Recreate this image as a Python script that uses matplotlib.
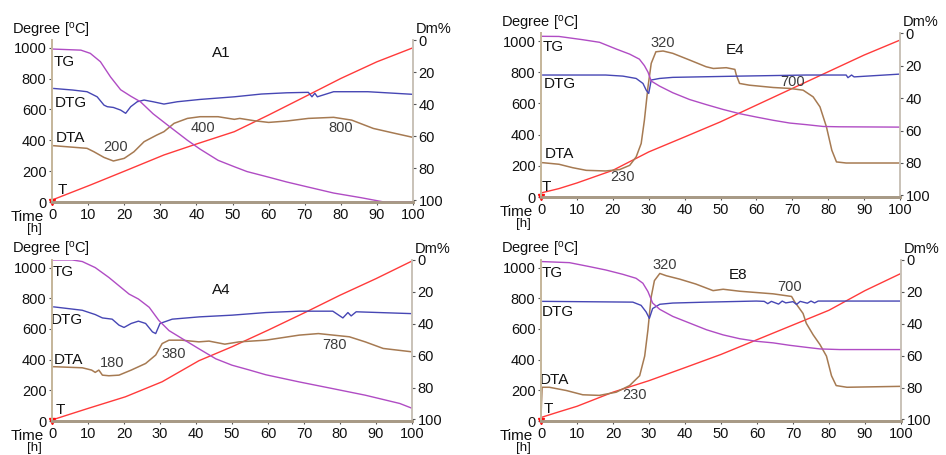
import matplotlib
matplotlib.use("Agg")
import matplotlib.pyplot as plt


TG_COLOR = "#b04cc4"
DTG_COLOR = "#4646b4"
DTA_COLOR = "#a67a52"
T_COLOR = "#ff3a3a"
NOTE_COLOR = "#3c3c3c"

# ---- A1 ----
A1_T_X = [0, 10.6, 20.8, 31, 40, 50.5, 60, 70, 80, 90, 100]
A1_T_Y = [13, 110, 207, 305, 376, 456, 564, 682, 801, 909, 1000]
A1_TG_X = [0, 8, 10.6, 13.4, 16.2, 19, 21.8, 24.5, 28, 32, 37.5, 41, 46, 50.5, 54, 60, 65, 71, 78, 85.6, 92, 100]
A1_TG_Y = [5.6, 6.3, 8.3, 13.5, 23, 31, 35, 38.5, 46, 53, 62.5, 68, 75, 79, 82, 85.5, 88.5, 91.7, 95.4, 98.3, 101, 101]
A1_DTG_X = [0.5, 5.7, 9.7, 12.5, 14.4, 15.3, 17, 19, 20.4, 21.8, 23.6, 25.5, 28, 31, 34.7, 41, 50.5, 58, 65, 71, 72, 72.8, 73.5, 78, 87.5, 100]
A1_DTG_Y = [736, 726, 715, 682, 628, 618, 613, 596, 575, 618, 650, 661, 650, 635, 650, 665, 682, 700, 708, 711, 682, 705, 682, 715, 715, 698]
A1_DTA_X = [0.5, 9.7, 11.6, 14.4, 17, 20, 22.7, 25.5, 29, 31, 33.8, 37.5, 41, 46, 50.5, 52, 56, 60, 65, 71, 78, 83, 89, 95, 100]
A1_DTA_Y = [365, 348, 326, 289, 266, 283, 326, 391, 434, 456, 510, 542, 553, 553, 536, 542, 527, 516, 525, 542, 549, 531, 477, 445, 419]

# ---- E4 ----
E4_T_X = [0, 5, 10, 20, 30, 40, 50, 60, 70, 80, 90, 100]
E4_T_Y = [26, 54, 90, 171, 289, 385, 482, 589, 696, 803, 910, 1006]
E4_TG_X = [0, 5, 11.6, 16.3, 21, 24.7, 27.4, 28.8, 29.8, 30.7, 33, 36.7, 41.4, 46, 50.7, 55.3, 60, 64.7, 69.3, 74, 78.6, 83, 100]
E4_TG_Y = [1.9, 2, 4, 5.6, 9.8, 12.9, 16, 20, 24, 29.5, 32.6, 36.7, 40.9, 44, 47, 49.6, 51.7, 53.7, 55.4, 56.4, 57.5, 57.7, 57.9]
E4_DTG_X = [0.5, 18, 22.8, 26.5, 28.4, 29.3, 30, 30.7, 33, 36.7, 46, 55.3, 74, 85, 85.5, 86.5, 87.2, 100]
E4_DTG_Y = [782, 782, 775, 760, 728, 685, 664, 750, 760, 767, 771, 775, 782, 782, 765, 782, 770, 788]
E4_DTA_X = [0.5, 5, 8.8, 12.6, 18, 21.9, 24.7, 26.5, 27.9, 28.8, 29.8, 30.7, 32, 34, 36.7, 41.4, 46, 48, 51.6, 54, 54.4, 55.3, 58, 64.7, 69.3, 73, 75.8, 77.7, 79.5, 81, 82.3, 85, 100]
E4_DTA_Y = [220, 210, 188, 171, 167, 176, 203, 257, 343, 493, 707, 857, 931, 936, 921, 878, 835, 824, 829, 818, 782, 728, 717, 702, 696, 685, 642, 578, 450, 300, 225, 218, 218]

# ---- A4 ----
A4_T_X = [0, 10, 20.4, 30.6, 40.8, 50, 60, 70.6, 80, 90, 100]
A4_T_Y = [7, 82, 158, 256, 393, 484, 592, 711, 820, 928, 1043]
A4_TG_X = [0, 5.6, 8.4, 12, 15.8, 18.6, 21.4, 24, 27, 29.7, 32.5, 37, 40.8, 45.5, 50, 54.8, 59.4, 68.7, 78, 87, 96.6, 100]
A4_TG_Y = [0, 0, 1, 4.8, 11, 16.2, 21.4, 24.5, 29.7, 38, 44.3, 50.5, 55.7, 62, 66, 69, 72, 76.5, 80.7, 84.8, 90, 93]
A4_DTG_X = [0.5, 8.4, 12, 14, 16.7, 18.6, 20, 22, 24, 26, 27.9, 28.8, 30, 33.4, 41, 50, 59.4, 68.7, 78, 80.8, 82.2, 83.1, 84.5, 100]
A4_DTG_Y = [744, 722, 694, 672, 664, 625, 610, 636, 651, 636, 581, 570, 636, 664, 679, 690, 707, 716, 716, 672, 707, 685, 712, 700]
A4_DTA_X = [0.5, 8.4, 11, 12, 13, 14, 15.8, 18.6, 22, 26, 28.8, 30.6, 32.5, 36, 40.8, 43.6, 48, 52, 59.4, 68.7, 74, 82.6, 87, 92, 100]
A4_DTA_Y = [354, 347, 332, 317, 332, 299, 295, 299, 332, 375, 430, 505, 527, 527, 516, 521, 501, 516, 527, 560, 570, 549, 516, 473, 451]

# ---- E8 ----
E8_T_X = [0, 5, 10, 20, 30, 40, 50, 60, 70, 80, 90, 100]
E8_T_Y = [23, 60, 96, 188, 263, 348, 434, 530, 626, 722, 850, 962]
E8_TG_X = [0, 7.9, 13.5, 18, 22.7, 26.4, 28.3, 29.7, 31, 33, 36.6, 41.3, 46, 50.6, 55.2, 59.8, 64.5, 69, 73.7, 77.5, 83, 100]
E8_TG_Y = [1, 1.7, 4.2, 6.3, 9, 11.5, 14.6, 19.8, 27, 31, 35.4, 39.6, 43.8, 47, 49.4, 51, 52, 53.5, 54.8, 55.8, 56.2, 56.2]
E8_DTG_X = [0.5, 25.5, 27.8, 29.2, 30.1, 31, 33, 36.6, 46, 59.8, 62, 63, 64, 66, 67, 68, 70, 71, 72, 74, 75, 76, 77, 100]
E8_DTG_Y = [780, 775, 754, 711, 669, 733, 761, 769, 775, 782, 780, 765, 780, 762, 782, 770, 778, 760, 780, 768, 782, 770, 782, 782]
E8_DTA_X = [0, 0.3, 2.3, 7, 11.6, 16.2, 20.9, 24.6, 27.4, 28.8, 29.7, 30.6, 31.5, 33, 34.8, 38.5, 43, 47.8, 50.6, 55.2, 64.5, 69.6, 70.5, 72.8, 73.7, 75.6, 77.5, 79.3, 80.7, 82, 85, 100]
E8_DTA_Y = [30, 220, 220, 199, 171, 167, 188, 231, 295, 423, 594, 808, 915, 962, 947, 925, 893, 850, 859, 846, 829, 812, 776, 701, 637, 562, 498, 423, 295, 231, 220, 226]


PANELS = [
    {
        "name": "A1", "rect": [0.055, 0.556, 0.3816, 0.356],
        "T": (A1_T_X, A1_T_Y), "TG": (A1_TG_X, A1_TG_Y),
        "DTG": (A1_DTG_X, A1_DTG_Y), "DTA": (A1_DTA_X, A1_DTA_Y),
        "labels": {"TG": (3.4, 909), "DTG": (5.1, 644), "DTA": (5.1, 412), "T": (2.8, 78), "A1": (47, 963)},
        "notes": [("200", 17.6, 354), ("400", 41.7, 482), ("800", 79.9, 477)],
    },
    {
        "name": "E4", "rect": [0.5719, 0.567, 0.3795, 0.360],
        "T": (E4_T_X, E4_T_Y), "TG": (E4_TG_X, E4_TG_Y),
        "DTG": (E4_DTG_X, E4_DTG_Y), "DTA": (E4_DTA_X, E4_DTA_Y),
        "labels": {"TG": (3.5, 964), "DTG": (5.1, 722), "DTA": (5.1, 274), "T": (1.4, 64), "E4": (54, 942)},
        "notes": [("320", 34, 989), ("700", 70.2, 739), ("230", 22.8, 128)],
    },
    {
        "name": "A4", "rect": [0.055, 0.0747, 0.3805, 0.354],
        "T": (A4_T_X, A4_T_Y), "TG": (A4_TG_X, A4_TG_Y),
        "DTG": (A4_DTG_X, A4_DTG_Y), "DTA": (A4_DTA_X, A4_DTA_Y),
        "labels": {"TG": (3.2, 972), "DTG": (4.2, 657), "DTA": (4.6, 397), "T": (2.3, 72), "A4": (46.9, 857)},
        "notes": [("180", 16.7, 375), ("380", 33.9, 434), ("780", 78.5, 494)],
    },
    {
        "name": "E8", "rect": [0.5719, 0.0747, 0.3805, 0.354],
        "T": (E8_T_X, E8_T_Y), "TG": (E8_TG_X, E8_TG_Y),
        "DTG": (E8_DTG_X, E8_DTG_Y), "DTA": (E8_DTA_X, E8_DTA_Y),
        "labels": {"TG": (3.2, 962), "DTG": (4.6, 712), "DTA": (3.7, 267), "T": (2.1, 81), "E8": (54.7, 953)},
        "notes": [("320", 34.3, 1015), ("700", 69.1, 872), ("230", 26, 167)],
    },
]


def draw_panel(fig, panel):
    ax = fig.add_axes(panel["rect"])
    ax2 = ax.twinx()

    ax.plot(*panel["T"], color=T_COLOR, lw=1.0)
    ax.plot(*panel["DTA"], color=DTA_COLOR, lw=1.1)
    ax.plot(*panel["DTG"], color=DTG_COLOR, lw=1.0)
    ax2.plot(*panel["TG"], color=TG_COLOR, lw=1.0)
    ax.plot([0], [0], marker="v", color="#ff1010", ms=5, clip_on=False, zorder=5)

    ax.set_xlim(0, 100)
    ax.set_ylim(0, 1050)
    ax2.set_ylim(101, 0)
    ax.set_xticks(range(0, 101, 10))
    ax.set_yticks(range(0, 1001, 200))
    ax2.set_yticks(range(0, 101, 20))

    for a in (ax, ax2):
        a.spines["top"].set_visible(False)
        a.spines["left"].set_color("#c6b79c")
        a.spines["left"].set_linewidth(1.4)
        a.spines["right"].set_color("#c9c2b8")
        a.spines["right"].set_linewidth(1.2)
        a.spines["bottom"].set_color("#a89a86")
        a.spines["bottom"].set_linewidth(2.0)
        a.tick_params(length=2.5, width=0.8, color="#555555", pad=1.5,
                      labelsize=10.5, labelcolor="#111111")

    for key, (x, y) in panel["labels"].items():
        ax.text(x, y, key, fontsize=11, ha="center", va="center", color="#111111")
    for txt, x, y in panel["notes"]:
        ax.text(x, y, txt, fontsize=10.5, ha="center", va="center", color=NOTE_COLOR)

    ax.annotate("Degree [$\\mathregular{^o}$C]", xy=(0, 1), xycoords="axes fraction",
                xytext=(-40, 10), textcoords="offset pixels",
                ha="left", va="center", fontsize=10.5, color="#111111")
    ax.annotate("Dm%", xy=(1, 1), xycoords="axes fraction",
                xytext=(3, 11), textcoords="offset pixels",
                ha="left", va="center", fontsize=10.5, color="#111111")
    ax.annotate("Time", xy=(0, 0), xycoords="axes fraction",
                xytext=(-8, -15), textcoords="offset pixels",
                ha="right", va="center", fontsize=11, color="#111111")
    ax.annotate("[h]", xy=(0, 0), xycoords="axes fraction",
                xytext=(-10, -27), textcoords="offset pixels",
                ha="right", va="center", fontsize=9.5, color="#111111")


def main() -> None:
    plt.rcParams["font.family"] = ["Liberation Sans", "DejaVu Sans"]
    fig = plt.figure(figsize=(9.46, 4.55), dpi=100)
    for panel in PANELS:
        draw_panel(fig, panel)
    fig.savefig("out.png", dpi=100, facecolor="white")
    plt.close(fig)


if __name__ == "__main__":
    main()
